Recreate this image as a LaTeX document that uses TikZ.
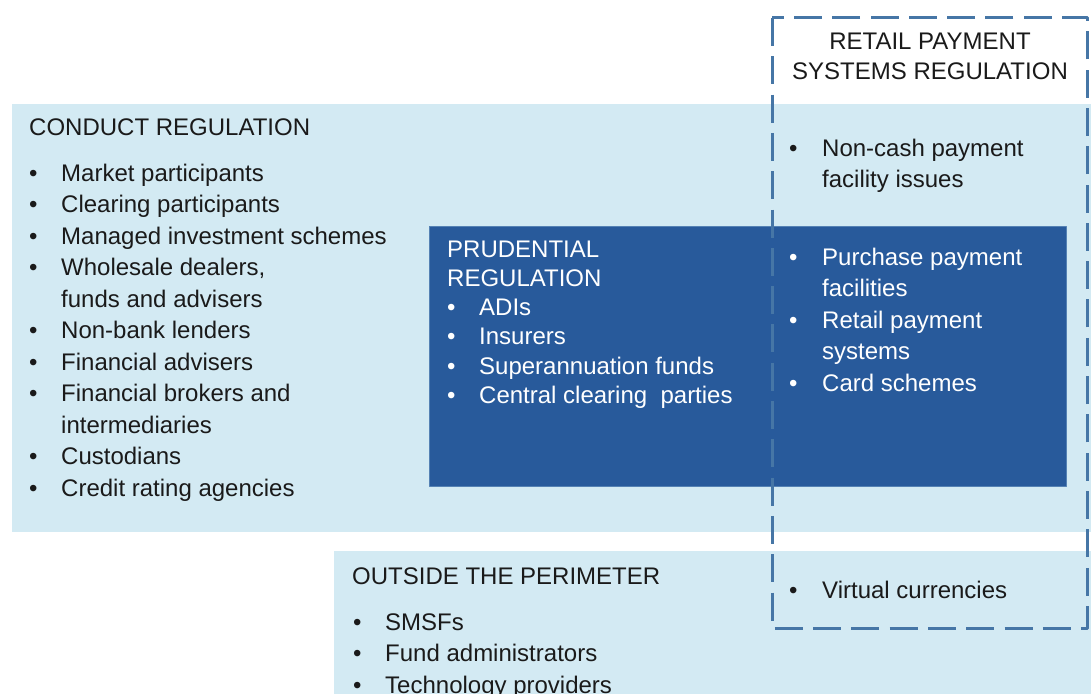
\documentclass[tikz,border=0pt]{standalone}
\usepackage{fontspec}
\setmainfont{Liberation Sans}
\usetikzlibrary{positioning}

\begin{document}
\begin{tikzpicture}[
    x=1pt,
    y=-1pt,
    line join=round,
    heading/.style={anchor=base west, inner sep=0pt, font=\fontsize{24}{31.5}\selectfont, text=inktext},
    itemlist/.style={anchor=base west, inner sep=0pt, font=\fontsize{24}{31.5}\selectfont, text=inktext},
    whitelist/.style={itemlist, text=white},
    region/.style={draw=none},
    perimeter/.style={draw=dashblue, line width=3pt, dash pattern=on 28pt off 10.3pt}
]

% -------------------------------------------------
% Palette
% -------------------------------------------------
\definecolor{paleblue}{HTML}{D3EAF3}   % Conduct / outside regions
\definecolor{royalblue}{HTML}{285A9B}  % Prudential region
\definecolor{edgeblue}{HTML}{5582B4}   % Prudential edge
\definecolor{dashblue}{HTML}{4676A6}   % Retail payment border
\definecolor{inktext}{HTML}{1A1A1A}    % Dark text

\useasboundingbox (0,0) rectangle (1091,693);

% -------------------------------------------------
% Regions
% -------------------------------------------------
\path[region, fill=paleblue] (12,104) rectangle (1091,532);
\path[region, fill=paleblue] (334,551) rectangle (1091,700);
\path[fill=royalblue, draw=edgeblue, line width=1pt] (429,226) rectangle (1066,486);
\draw[perimeter] (772,18) rectangle (1087,628);

% -------------------------------------------------
% Conduct regulation
% -------------------------------------------------
\node[heading] (conducthead) at (29,135) {CONDUCT REGULATION};
\node[itemlist] (conductlist) at (29,181) {\begin{tabular}[t]{@{}p{32pt}@{}l@{}}
    \textbullet & Market participants\\
    \textbullet & Clearing participants\\
    \textbullet & Managed investment schemes\\
    \textbullet & Wholesale dealers,\\
                & funds and advisers\\
    \textbullet & Non-bank lenders\\
    \textbullet & Financial advisers\\
    \textbullet & Financial brokers and\\
                & intermediaries\\
    \textbullet & Custodians\\
    \textbullet & Credit rating agencies
\end{tabular}};

% -------------------------------------------------
% Prudential regulation
% -------------------------------------------------
\node[whitelist, font=\fontsize{24}{29.3}\selectfont] (prudlist) at (447,257) {\begin{tabular}[t]{@{}p{32pt}@{}l@{}}
    \multicolumn{2}{@{}l@{}}{PRUDENTIAL}\\
    \multicolumn{2}{@{}l@{}}{REGULATION}\\
    \textbullet & ADIs\\
    \textbullet & Insurers\\
    \textbullet & Superannuation funds\\
    \textbullet & Central clearing\ \ parties
\end{tabular}};

% -------------------------------------------------
% Retail payment systems regulation
% -------------------------------------------------
\node[itemlist, anchor=base, font=\fontsize{24}{30}\selectfont] (retailhead) at (930,49) {\begin{tabular}[t]{@{}c@{}}
    RETAIL PAYMENT\\
    SYSTEMS REGULATION
\end{tabular}};
\node[itemlist] (retaillist) at (789,156) {\begin{tabular}[t]{@{}p{33pt}@{}l@{}}
    \textbullet & Non-cash payment\\
                & facility issues
\end{tabular}};
\node[whitelist] (paylist) at (789,265) {\begin{tabular}[t]{@{}p{33pt}@{}l@{}}
    \textbullet & Purchase payment\\
                & facilities\\
    \textbullet & Retail payment\\
                & systems\\
    \textbullet & Card schemes
\end{tabular}};

% -------------------------------------------------
% Outside the perimeter
% -------------------------------------------------
\node[heading] (outsidehead) at (352,584) {OUTSIDE THE PERIMETER};
\node[itemlist] (outsidelist) at (353,630) {\begin{tabular}[t]{@{}p{32pt}@{}l@{}}
    \textbullet & SMSFs\\
    \textbullet & Fund administrators\\
    \textbullet & Technology providers
\end{tabular}};
\node[itemlist] (virtuallist) at (789,598) {\begin{tabular}[t]{@{}p{33pt}@{}l@{}}
    \textbullet & Virtual currencies
\end{tabular}};

\end{tikzpicture}
\end{document}
